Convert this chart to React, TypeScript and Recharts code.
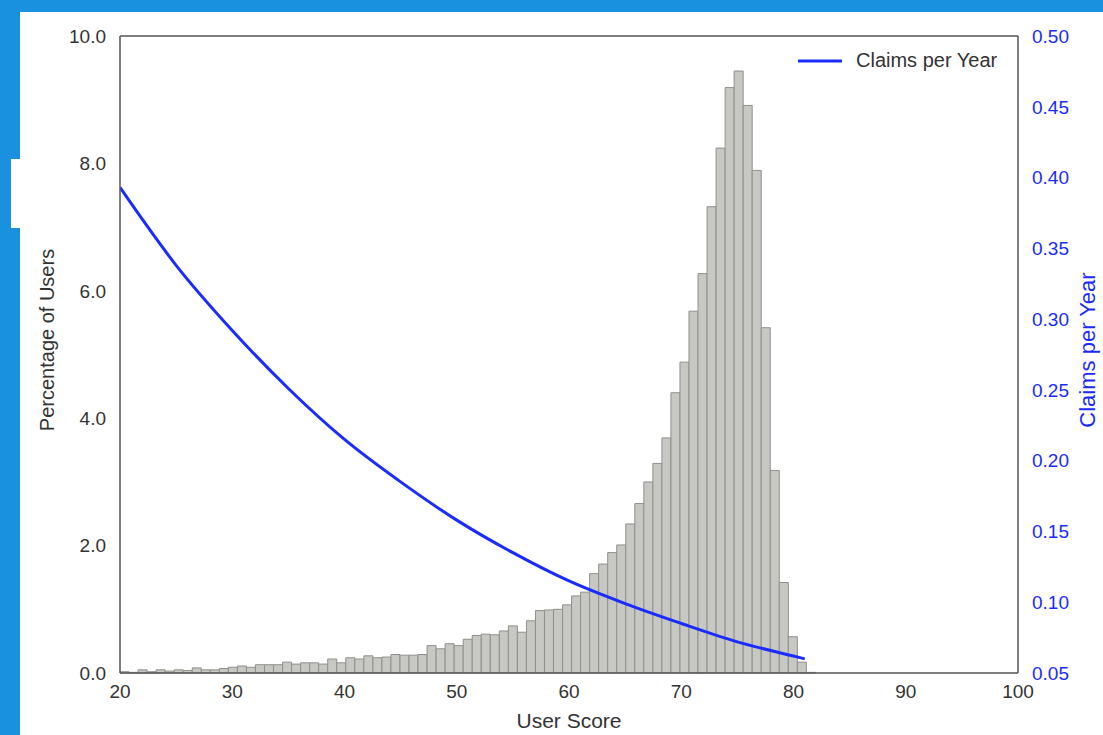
import {
  Bar,
  ComposedChart,
  Label,
  Line,
  ReferenceLine,
  XAxis,
  YAxis,
} from "recharts";

// histogram of user scores, bins start at 20
const BIN_START = 20;
const BIN_WIDTH = 0.8046;

const userPct = [
  0.02, 0.01, 0.05, 0.02, 0.05, 0.03, 0.05, 0.04, 0.08, 0.05,
  0.05, 0.07, 0.09, 0.11, 0.09, 0.13, 0.13, 0.13, 0.17, 0.14,
  0.16, 0.16, 0.14, 0.22, 0.16, 0.24, 0.22, 0.27, 0.24, 0.25,
  0.29, 0.28, 0.28, 0.29, 0.43, 0.38, 0.46, 0.43, 0.53, 0.59,
  0.61, 0.6, 0.66, 0.74, 0.64, 0.82, 0.98, 0.99, 1.0, 1.07,
  1.21, 1.27, 1.56, 1.71, 1.89, 2.01, 2.34, 2.66, 3.0, 3.29,
  3.69, 4.4, 4.88, 5.68, 6.27, 7.32, 8.24, 9.19, 9.45, 8.91,
  7.89, 5.42, 3.18, 1.42, 0.57, 0.17, 0.01,
];

// claims per year curve
const claimScore = [20, 25, 30, 35, 40, 45, 50, 55, 60, 65, 70, 75, 80, 81];
const claimRate = [
  0.393, 0.338, 0.292, 0.251, 0.215, 0.185, 0.158, 0.135, 0.115, 0.099,
  0.085, 0.072, 0.062, 0.06,
];

const xTicks = [20, 30, 40, 50, 60, 70, 80, 90, 100];
const leftTicks = [0, 2, 4, 6, 8, 10];
const rightTicks = [0.05, 0.1, 0.15, 0.2, 0.25, 0.3, 0.35, 0.4, 0.45, 0.5];

const histData = userPct.map((pct, i) => ({
  x: BIN_START + BIN_WIDTH * (i + 0.5),
  pct,
}));
const lineData = claimScore.map((x, i) => ({ x, claims: claimRate[i] }));

const FONT = "'Liberation Sans', Arial, Helvetica, sans-serif";
const BLUE = "#1a2bff";
const AXIS = "#555555";
const TEXT = "#333333";

function LegendBox() {
  return (
    <div
      style={{
        position: "absolute",
        left: 797,
        top: 49,
        display: "flex",
        alignItems: "center",
        fontFamily: FONT,
      }}
    >
      <svg width={46} height={10}>
        <line x1={1} y1={5} x2={45} y2={5} stroke={BLUE} strokeWidth={3} />
      </svg>
      <span style={{ marginLeft: 13, fontSize: 20, color: TEXT }}>
        Claims per Year
      </span>
    </div>
  );
}

export default function App() {
  return (
    <div
      style={{
        position: "absolute",
        left: 0,
        top: 0,
        width: 1103,
        height: 735,
        background: "#1a91df",
        overflow: "hidden",
      }}
    >
      <div
        style={{
          position: "absolute",
          left: 20,
          top: 12,
          width: 1083,
          height: 723,
          background: "#ffffff",
        }}
      />
      <div
        style={{
          position: "absolute",
          left: 11,
          top: 159,
          width: 9,
          height: 69,
          background: "#ffffff",
        }}
      />
      <div style={{ position: "absolute", left: 0, top: 0 }}>
        <ComposedChart
          width={1103}
          height={735}
          data={histData}
          margin={{ top: 36, right: 0, bottom: 0, left: 0 }}
          barGap={0}
          barCategoryGap={0}
        >
          <XAxis
            dataKey="x"
            type="number"
            domain={[20, 100]}
            ticks={xTicks}
            allowDataOverflow
            height={62}
            tickLine={false}
            tickSize={0}
            tickMargin={12}
            axisLine={{ stroke: AXIS, strokeWidth: 1.5 }}
            tick={{ fill: TEXT, fontSize: 19, fontFamily: FONT }}
          >
            <Label
              content={() => (
                <text
                  x={569}
                  y={728}
                  textAnchor="middle"
                  fontSize={21}
                  fontFamily={FONT}
                  fill={TEXT}
                >
                  User Score
                </text>
              )}
            />
          </XAxis>
          <XAxis
            xAxisId="line"
            dataKey="x"
            type="number"
            domain={[20, 100]}
            allowDataOverflow
            hide
          />
          <YAxis
            yAxisId="left"
            domain={[0, 10]}
            ticks={leftTicks}
            width={120}
            tickLine={false}
            tickSize={0}
            tickMargin={14}
            tickFormatter={(v: number) => v.toFixed(1)}
            axisLine={{ stroke: AXIS, strokeWidth: 1.5 }}
            tick={{ fill: TEXT, fontSize: 19, fontFamily: FONT }}
          >
            <Label
              content={() => (
                <text
                  x={54}
                  y={340}
                  transform="rotate(-90 54 340)"
                  textAnchor="middle"
                  fontSize={20}
                  fontFamily={FONT}
                  fill={TEXT}
                >
                  Percentage of Users
                </text>
              )}
            />
          </YAxis>
          <YAxis
            yAxisId="right"
            orientation="right"
            domain={[0.05, 0.5]}
            ticks={rightTicks}
            width={85}
            tickLine={false}
            tickSize={0}
            tickMargin={14}
            tickFormatter={(v: number) => v.toFixed(2)}
            axisLine={{ stroke: AXIS, strokeWidth: 1.5 }}
            tick={{ fill: BLUE, fontSize: 19, fontFamily: FONT }}
          >
            <Label
              content={() => (
                <text
                  x={1095}
                  y={350}
                  transform="rotate(-90 1095 350)"
                  textAnchor="middle"
                  fontSize={22}
                  fontFamily={FONT}
                  fill={BLUE}
                >
                  Claims per Year
                </text>
              )}
            />
          </YAxis>
          <ReferenceLine
            yAxisId="left"
            y={10}
            stroke={AXIS}
            strokeWidth={1.5}
            ifOverflow="visible"
          />
          <Bar
            yAxisId="left"
            dataKey="pct"
            barSize={9}
            fill="#c7c8c4"
            stroke="#8f908c"
            strokeWidth={1}
            isAnimationActive={false}
          />
          <Line
            xAxisId="line"
            yAxisId="right"
            data={lineData}
            dataKey="claims"
            type="monotone"
            stroke={BLUE}
            strokeWidth={3}
            dot={false}
            activeDot={false}
            isAnimationActive={false}
          />
        </ComposedChart>
      </div>
      <LegendBox />
    </div>
  );
}
